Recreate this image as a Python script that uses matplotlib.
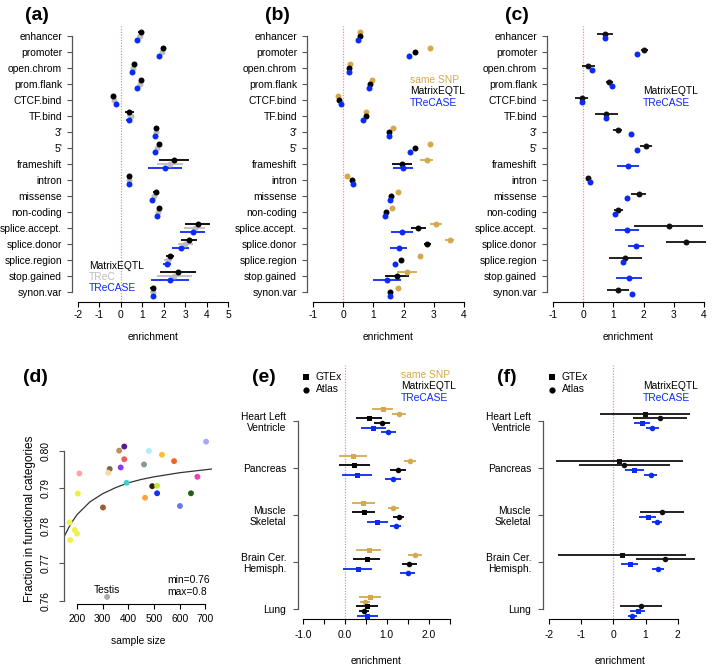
import numpy as np
import matplotlib
matplotlib.use("Agg")
import matplotlib.pyplot as plt

plt.rcParams['font.family'] = ['Liberation Sans', 'DejaVu Sans']
plt.rcParams['axes.unicode_minus'] = False

nan = np.nan

# ---- panels a-c: enrichment by functional category ----
cats = ["enhancer", "promoter", "open.chrom", "prom.flank", "CTCF.bind", "TF.bind",
        "3'", "5'", "frameshift", "intron", "missense", "non-coding",
        "splice.accept.", "splice.donor", "splice.region", "stop.gained", "synon.var"]

a_mx = [0.93, 1.98, 0.60, 0.93, -0.37, 0.39, 1.64, 1.76, 2.46, 0.37, 1.63, 1.76, 3.58, 3.17, 2.29, 2.68, 1.49]
a_mx_err = [0.12, 0.08, 0.08, 0.08, 0.10, 0.20, 0.06, 0.08, 0.70, 0.05, 0.12, 0.08, 0.57, 0.38, 0.20, 0.85, 0.12]
a_trec = [0.87, 1.93, 0.57, 0.90, -0.30, 0.45, 1.62, 1.68, 2.30, 0.37, 1.55, 1.72, 3.45, 3.00, 2.20, 2.50, 1.50]
a_trec_err = [0.10, 0.08, 0.08, 0.08, 0.10, 0.18, 0.06, 0.08, 0.60, 0.05, 0.12, 0.08, 0.50, 0.35, 0.20, 0.80, 0.12]
a_tc = [0.77, 1.80, 0.51, 0.74, -0.23, 0.37, 1.60, 1.60, 2.06, 0.37, 1.47, 1.67, 3.35, 2.80, 2.14, 2.29, 1.50]
a_tc_err = [0.10, 0.07, 0.07, 0.07, 0.08, 0.15, 0.06, 0.07, 0.78, 0.05, 0.12, 0.07, 0.60, 0.40, 0.18, 0.90, 0.10]

b_same = [0.57, 2.89, 0.22, 0.95, -0.16, 0.74, 1.65, 2.89, 2.77, 0.14, 1.83, 1.62, 3.06, 3.53, 2.53, 2.10, 1.83]
b_same_err = [0.05, 0.05, 0.05, 0.05, 0.05, 0.05, 0.05, 0.05, 0.22, 0.05, 0.05, 0.05, 0.20, 0.15, 0.05, 0.33, 0.05]
b_mx = [0.55, 2.37, 0.19, 0.89, -0.14, 0.77, 1.53, 2.37, 1.95, 0.29, 1.58, 1.41, 2.49, 2.79, 1.91, 1.78, 1.55]
b_mx_err = [0.05, 0.05, 0.05, 0.05, 0.05, 0.05, 0.05, 0.05, 0.32, 0.05, 0.05, 0.05, 0.26, 0.13, 0.06, 0.40, 0.05]
b_tc = [0.50, 2.18, 0.19, 0.84, -0.07, 0.65, 1.52, 2.20, 1.97, 0.34, 1.55, 1.37, 1.95, 1.84, 1.70, 1.45, 1.55]
b_tc_err = [0.05, 0.05, 0.05, 0.05, 0.05, 0.05, 0.05, 0.05, 0.33, 0.05, 0.05, 0.05, 0.36, 0.28, 0.06, 0.46, 0.05]

c_mx = [0.72, 2.03, 0.17, 0.87, -0.05, 0.77, 1.14, 2.09, nan, 0.17, 1.84, 1.16, 2.83, 3.40, 1.40, nan, 1.14]
c_mx_err = [0.28, 0.12, 0.22, 0.12, 0.22, 0.37, 0.14, 0.20, nan, 0.05, 0.25, 0.15, 1.15, 0.66, 0.54, nan, 0.36]
c_tc = [0.72, 1.77, 0.28, 0.95, -0.05, 0.77, 1.59, 1.79, 1.48, 0.22, 1.46, 1.05, 1.46, 1.76, 1.32, 1.51, 1.62]
c_tc_err = [0.05, 0.05, 0.05, 0.05, 0.05, 0.05, 0.05, 0.05, 0.36, 0.05, 0.05, 0.05, 0.40, 0.27, 0.05, 0.43, 0.05]

# ---- panel d: fraction vs sample size ----
d_size = [703, 384, 364, 480, 531, 384, 578, 370, 327, 461, 209, 321, 669, 393,
          203, 493, 512, 512, 644, 465, 301, 601, 171, 191, 200, 173, 317]
d_frac = [0.8025, 0.8012, 0.8001, 0.8000, 0.7990, 0.7978, 0.7973, 0.7956, 0.7952, 0.7964,
          0.7940, 0.7942, 0.7931, 0.7915, 0.7886, 0.7906, 0.7907, 0.7887, 0.7887, 0.7875,
          0.7849, 0.7853, 0.7809, 0.7789, 0.7779, 0.7762, 0.7610]
d_cols = ['#a8a8f8', '#5a1a8a', '#c0905a', '#b0eaff', '#f8c030', '#f05a5a', '#f06428',
          '#8a3ae8', '#786850', '#8a9a88', '#f4a8a0', '#fcd8a0', '#f040b0', '#40d0d0',
          '#eeee40', '#3a1a08', '#b8f040', '#1030f0', '#206018', '#f8a838', '#a05a30',
          '#6878f0', '#f0f050', '#f0f050', '#f0f050', '#f0f050', '#aaaaaa']
fit_x = [150, 175, 200, 250, 300, 350, 400, 450, 500, 600, 726]
fit_y = [0.7772, 0.7805, 0.7830, 0.7864, 0.7886, 0.7902, 0.7915, 0.7924, 0.7931, 0.7942, 0.7952]

# ---- panels e-f: enrichment by tissue ----
tissues = ["Heart Left\nVentricle", "Pancreas", "Muscle\nSkeletal", "Brain Cer.\nHemisph.", "Lung"]

e_same_gtex = [0.90, 0.19, 0.44, 0.57, 0.61]
e_same_gtex_err = [0.25, 0.34, 0.28, 0.30, 0.26]
e_same_atlas = [1.29, 1.56, 1.16, 1.68, 0.48]
e_same_atlas_err = [0.16, 0.14, 0.14, 0.16, 0.11]
e_mx_gtex = [0.57, 0.23, 0.45, 0.52, 0.53]
e_mx_gtex_err = [0.31, 0.37, 0.28, 0.32, 0.26]
e_mx_atlas = [0.89, 1.27, 1.29, 1.54, 0.46]
e_mx_atlas_err = [0.19, 0.18, 0.13, 0.18, 0.12]
e_tc_gtex = [0.68, 0.29, 0.77, 0.31, 0.54]
e_tc_gtex_err = [0.30, 0.36, 0.25, 0.35, 0.26]
e_tc_atlas = [1.04, 1.16, 1.21, 1.50, nan]
e_tc_atlas_err = [0.17, 0.19, 0.14, 0.18, nan]

f_mx_gtex = [0.98, 0.19, nan, 0.27, nan]
f_mx_gtex_err = [1.40, 1.98, nan, 1.98, nan]
f_mx_atlas = [1.45, 0.34, 1.51, 1.62, 0.86]
f_mx_atlas_err = [0.84, 1.42, 0.69, 0.91, 0.66]
f_tc_gtex = [0.88, 0.65, 1.07, 0.51, 0.76]
f_tc_gtex_err = [0.25, 0.29, 0.26, 0.26, 0.23]
f_tc_atlas = [1.21, 1.16, 1.36, 1.39, 0.59]
f_tc_atlas_err = [0.20, 0.21, 0.16, 0.18, 0.13]

GOLD = '#d6a84e'
BLUE = '#0a2af5'
GRAY = '#bdbdbd'
FS = 7.4

W, H = 712, 668
fig = plt.figure(figsize=(W / 100, H / 100), dpi=100)


def box(x0, y0, x1, y1):
    return [x0 / W, 1 - y1 / H, (x1 - x0) / W, (y1 - y0) / H]


def ftext(x, y, s, **kw):
    kw.setdefault('fontsize', FS)
    kw.setdefault('va', 'center')
    fig.text(x / W, 1 - y / H, s, **kw)


def r_axes(ax, xb, yb):
    for s in ['top', 'right']:
        ax.spines[s].set_visible(False)
    ax.spines['bottom'].set_bounds(*xb)
    ax.spines['left'].set_bounds(*yb)
    ax.spines['left'].set_color('#555555')
    ax.spines['left'].set_linewidth(0.9)
    ax.spines['bottom'].set_linewidth(0.8)
    ax.tick_params(length=3.6, width=0.8, labelsize=FS)
    ax.tick_params(axis='y', colors='#555555', labelcolor='black')


def zero_line(ax):
    ax.axvline(0, color='#f28a8a', ls=(0, (1, 1.2)), lw=0.9, zorder=0)


def cat_panel(rect, xlim, xb, series, tag, tag_x):
    ax = fig.add_axes(box(*rect))
    y = np.arange(1, len(cats) + 1)
    zero_line(ax)
    for vals, errs, col, off in series:
        ax.errorbar(vals, y + off, xerr=errs, fmt='o', color=col, ms=4.3,
                    elinewidth=1.3, capsize=0, mew=0)
    ax.set_xlim(*xlim)
    ax.set_ylim(len(cats) + 0.64, 0.36)
    ax.set_yticks(y, cats)
    ax.set_xticks(np.arange(xb[0], xb[1] + 1))
    r_axes(ax, xb, (1, len(cats)))
    ax.tick_params(axis='x', pad=2.5)
    ax.tick_params(axis='y', pad=3.5)
    ftext((rect[0] + rect[2]) / 2, 337, "enrichment", ha='center')
    ftext(tag_x, 15, tag, fontsize=14, fontweight='bold', ha='center')
    return ax


# (a)
cat_panel((72, 26, 234, 302), (-2.28, 5.28), (-2, 5),
          [(a_trec, a_trec_err, GRAY, 0.0), (a_mx, a_mx_err, 'black', -0.25),
           (a_tc, a_tc_err, BLUE, 0.25)], "(a)", 37)
ftext(89, 266, "MatrixEQTL", color='black')
ftext(89, 277, "TReC", color=GRAY)
ftext(89, 288, "TReCASE", color=BLUE)

# (b)
cat_panel((307, 26, 470, 302), (-1.2, 4.2), (-1, 4),
          [(b_same, b_same_err, GOLD, -0.25), (b_mx, b_mx_err, 'black', 0.0),
           (b_tc, b_tc_err, BLUE, 0.25)], "(b)", 277)
ftext(410, 80, "same SNP", color=GOLD)
ftext(410, 91.5, "MatrixEQTL", color='black')
ftext(410, 103, "TReCASE", color=BLUE)

# (c)
cat_panel((547, 26, 710, 302), (-1.2, 4.2), (-1, 4),
          [(c_mx, c_mx_err, '#111111', -0.13), (c_tc, c_tc_err, BLUE, 0.13)], "(c)", 517)
ftext(643, 91, "MatrixEQTL", color='black')
ftext(643, 103, "TReCASE", color=BLUE)

# (d)
axd = fig.add_axes(box(64, 434, 212, 604))
axd.plot(fit_x, fit_y, color='#333333', lw=0.9)
axd.scatter(d_size, d_frac, c=d_cols, s=18, linewidths=0, zorder=3)
axd.set_xlim(149, 726)
axd.set_ylim(0.7591, 0.80455)
axd.set_xticks([200, 300, 400, 500, 600, 700])
axd.set_yticks([0.76, 0.77, 0.78, 0.79, 0.80], ["0.76", "0.77", "0.78", "0.79", "0.80"])
r_axes(axd, (200, 700), (0.76, 0.80))
axd.tick_params(axis='y', labelrotation=90, pad=6)
for lab in axd.get_yticklabels():
    lab.set_va('center')
axd.tick_params(axis='x', pad=3.5)
axd.text(317, 0.7615, "Testis", fontsize=FS, ha='center', va='bottom')
ftext(167, 580, "min=0.76")
ftext(167, 592, "max=0.8")
ftext(30, 519, "Fraction in functional categories", fontsize=8.5, rotation=90, ha='center')
ftext(138, 641, "sample size", ha='center')
ftext(35, 378, "(d)", fontsize=14, fontweight='bold', ha='center')


def tissue_panel(rect, xlim, xb, xticks, xlabels, series, tag, tag_x, leg_x, mk_x, legend):
    ax = fig.add_axes(box(*rect))
    y = np.arange(1, len(tissues) + 1)
    zero_line(ax)
    for vals, errs, col, off, mk in series:
        ax.errorbar(vals, y + off, xerr=errs, fmt=mk, color=col,
                    ms=4.0 if mk == 'o' else 3.6, elinewidth=1.3, capsize=0, mew=0)
    ax.set_xlim(*xlim)
    ax.set_ylim(5.219, -0.183)
    ax.set_yticks(y, tissues)
    ax.set_xticks(xticks, xlabels)
    r_axes(ax, xb, (1, len(tissues)))
    ax.tick_params(axis='x', pad=4)
    ax.tick_params(axis='y', pad=5)
    ftext((rect[0] + rect[2]) / 2, 661, "enrichment", ha='center')
    ftext(tag_x, 377, tag, fontsize=14, fontweight='bold', ha='center')
    # shape legend
    for yy, mk, name in [(377, 's', "GTEx"), (389.5, 'o', "Atlas")]:
        ax.plot([mk_x / W], [1 - yy / H], marker=mk, color='black', ms=4.5 if mk == 'o' else 4,
                mew=0, transform=fig.transFigure, clip_on=False)
        ftext(mk_x + 10, yy, name)
    for yy, (name, col) in zip([374.5, 386, 398] if len(legend) == 3 else [386, 398], legend):
        ftext(leg_x, yy, name, color=col)
    return ax


# (e)
tissue_panel((298, 365, 455, 619), (-1.117, 2.63), (-1, 2.5),
             [-1, -0.5, 0, 0.5, 1, 1.5, 2, 2.5], ["-1.0", "", "0.0", "", "1.0", "", "2.0", ""],
             [(e_same_gtex, e_same_gtex_err, GOLD, -0.25, 's'),
              (e_same_atlas, e_same_atlas_err, GOLD, -0.15, 'o'),
              (e_mx_gtex, e_mx_gtex_err, 'black', -0.05, 's'),
              (e_mx_atlas, e_mx_atlas_err, 'black', 0.05, 'o'),
              (e_tc_gtex, e_tc_gtex_err, BLUE, 0.15, 's'),
              (e_tc_atlas, e_tc_atlas_err, BLUE, 0.25, 'o')],
             "(e)", 264, 401, 306,
             [("same SNP", GOLD), ("MatrixEQTL", 'black'), ("TReCASE", BLUE)])

# (f)
tissue_panel((543, 365, 697, 619), (-2.187, 2.60), (-2, 2),
             [-2, -1, 0, 1, 2], ["-2", "-1", "0", "1", "2"],
             [(f_mx_gtex, f_mx_gtex_err, '#111111', -0.15, 's'),
              (f_mx_atlas, f_mx_atlas_err, '#111111', -0.05, 'o'),
              (f_tc_gtex, f_tc_gtex_err, BLUE, 0.05, 's'),
              (f_tc_atlas, f_tc_atlas_err, BLUE, 0.15, 'o')],
             "(f)", 507, 643, 552,
             [("MatrixEQTL", 'black'), ("TReCASE", BLUE)])

fig.savefig("out.png", dpi=100)
